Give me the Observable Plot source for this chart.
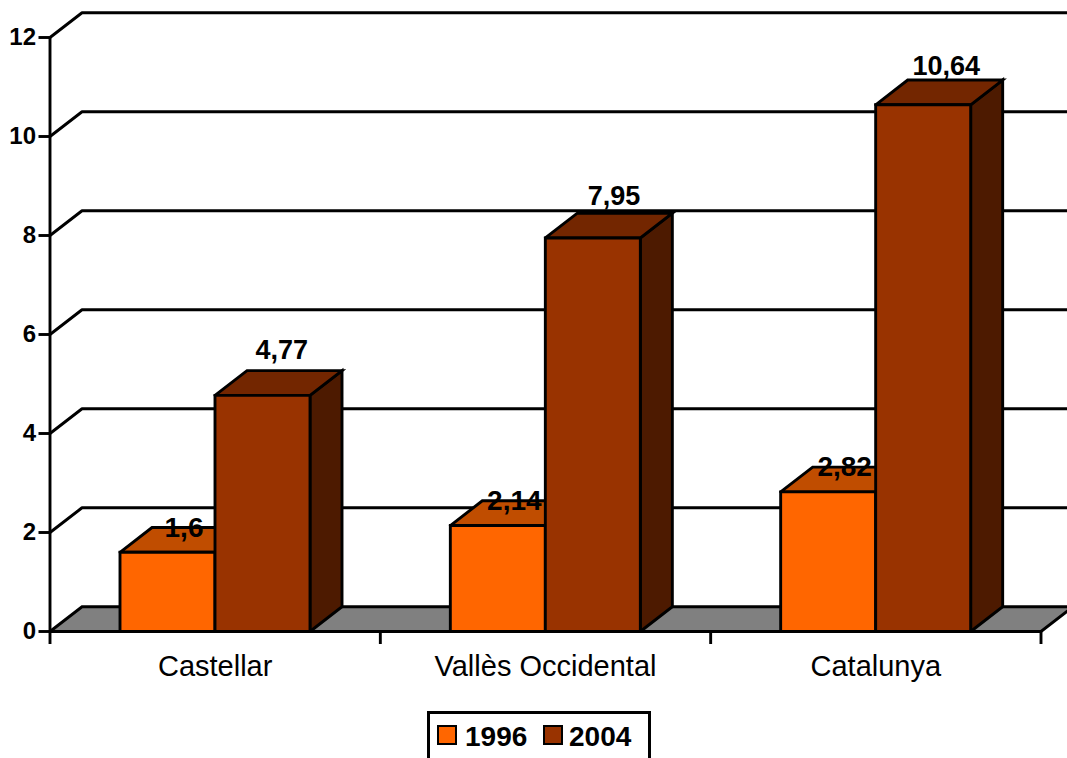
<!DOCTYPE html>
<html><head><meta charset="utf-8">
<script src="https://cdn.jsdelivr.net/npm/d3@7"></script>
<script src="https://cdn.jsdelivr.net/npm/@observablehq/plot@0.6"></script>
<style>
html,body{margin:0;padding:0;width:1067px;height:758px;overflow:hidden;background:#fff;font-family:"Liberation Sans",Arial,sans-serif}
#legend{position:absolute;left:427px;top:711px;width:218px;height:52px;border:3px solid #000;box-sizing:content-box;font-weight:bold;font-size:28px;color:#000}
#legend span{position:absolute;top:8px;line-height:30px}
#legend i{position:absolute;top:11px;width:16px;height:16px;border:2.5px solid #000;display:block}
</style></head><body>
<div id="chart"></div>
<div id="legend">
<i style="left:7px;background:#FF6600"></i><span style="left:35px">1996</span>
<i style="left:113px;background:#993300"></i><span style="left:139px">2004</span>
</div>
<script>
const categories = ["Castellar", "Vallès Occidental", "Catalunya"];
const values1996 = [1.6, 2.14, 2.82];
const values2004 = [4.77, 7.95, 10.64];
const labels1996 = ["1,6", "2,14", "2,82"];
const labels2004 = ["4,77", "7,95", "10,64"];
const yTicks = [0, 2, 4, 6, 8, 10, 12];

const depthX = 0.0969, depthY = 0.5, gap = 0.2119, barW = 0.2876;
const sw = 2.9;

const poly = (pts, fill) => Plot.line(pts.concat([pts[0]]), {
  x: d => d[0], y: d => d[1], fill, stroke: "#000", strokeWidth: sw,
  strokeLinejoin: "miter", strokeMiterlimit: 4
});

const bar = (x0, v, front, top, side) => {
  const x1 = x0 + barW;
  return [
    poly([[x1,0],[x1+depthX,depthY],[x1+depthX,v+depthY],[x1,v]], side),
    poly([[x0,v],[x0+depthX,v+depthY],[x1+depthX,v+depthY],[x1,v]], top),
    poly([[x0,0],[x1,0],[x1,v],[x0,v]], front)
  ];
};

const marks = [];
marks.push(poly([[0,0],[depthX,depthY],[3+depthX,depthY],[3,0]], "#808080"));
for (const t of yTicks.slice(1)) {
  marks.push(Plot.line([[0,t],[depthX,t+depthY],[3+depthX,t+depthY]], {
    x: d => d[0], y: d => d[1], stroke: "#000", strokeWidth: sw
  }));
}
marks.push(Plot.ruleX([0], {y1: 0, y2: 12, stroke: "#000", strokeWidth: sw}));
categories.forEach((c, i) => {
  const x0 = i + gap;
  marks.push(...bar(x0, values1996[i], "#FF6600", "#C04D00", "#732600"));
  marks.push(...bar(x0 + barW, values2004[i], "#993300", "#732600", "#4D1A00"));
});
marks.push(Plot.axisY({ticks: yTicks, tickSize: 11, tickPadding: 3, strokeWidth: sw,
  fontSize: 24, fontWeight: "bold", label: null, tickFormat: d => d}));
marks.push(Plot.axisX({ticks: [0,1,2,3], tickSize: 13, strokeWidth: sw, tickFormat: () => "", label: null}));
marks.push(Plot.axisX({ticks: [0.5,1.5,2.5], tickSize: 0, tickPadding: 24, fontSize: 29,
  tickFormat: d => categories[Math.floor(d)], label: null}));
marks.push(Plot.text(categories, {
  x: (d, i) => i + gap + barW/2 + 0.05,
  y: (d, i) => values1996[i] + depthY,
  text: (d, i) => labels1996[i], fontSize: 28, fontWeight: "bold", fill: "#000"
}));
marks.push(Plot.text(categories, {
  x: (d, i) => i + gap + barW*1.5 + 0.058 + (values2004[i] - 4.77) * 0.002,
  y: (d, i) => values2004[i] * 0.977 + 1.017,
  text: (d, i) => labels2004[i], fontSize: 27, fontWeight: "bold", fill: "#000"
}));

const chart = Plot.plot({
  width: 1067, height: 700,
  marginLeft: 49.5, marginRight: 26.5, marginTop: 37, marginBottom: 69,
  x: {domain: [0, 3], axis: null},
  y: {domain: [0, 12], axis: null},
  style: {fontFamily: '"Liberation Sans", Arial, sans-serif', color: "#000", background: "transparent"},
  marks
});
document.getElementById("chart").append(chart);
</script>
</body></html>
